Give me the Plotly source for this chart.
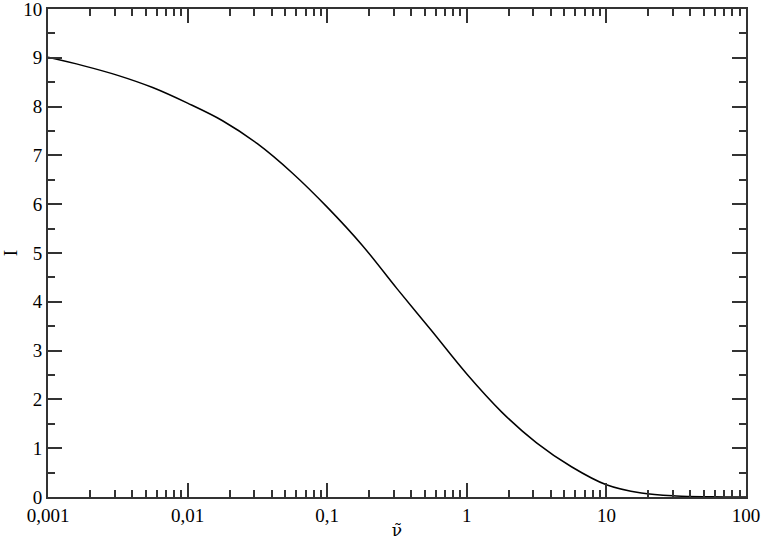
import plotly.graph_objects as go

# values (quarter-decade steps)
nu = [0.001, 0.00178, 0.00316, 0.00562, 0.01, 0.0178, 0.0316, 0.0562, 0.1, 0.178,
      0.316, 0.562, 1, 1.78, 3.16, 5.62, 10, 17.8, 31.6, 56.2, 100]
intensity = [9.01, 8.84, 8.64, 8.39, 8.07, 7.71, 7.24, 6.64, 5.94, 5.16,
             4.27, 3.40, 2.52, 1.74, 1.11, 0.62, 0.25, 0.08, 0.02, 0.005, 0.0]

x_tickvals = [0.001, 0.01, 0.1, 1, 10, 100]
x_ticktext = ['0,001', '0,01', '0,1', '1', '10', '100']
x_minor = [m * 10 ** k for k in range(-3, 2) for m in range(2, 10)]

font = dict(family='Liberation Serif, Times New Roman, serif', size=19, color='black')

fig = go.Figure()
fig.add_trace(go.Scatter(x=nu, y=intensity, mode='lines',
                         line=dict(color='black', width=1.5, shape='spline')))

fig.update_xaxes(type='log', range=[-3, 2], tickvals=x_tickvals, ticktext=x_ticktext,
                 ticks='inside', ticklen=14, tickwidth=1.5, tickcolor='#333',
                 minor=dict(tickvals=x_minor, ticks='inside', ticklen=7, tickwidth=1.5,
                            tickcolor='#333', showgrid=False),
                 showline=True, linewidth=2, linecolor='#333', mirror='allticks',
                 showgrid=False, zeroline=False, automargin=False,
                 ticklabeloverflow='allow',
                 title=dict(text='ν̃', font=dict(family='DejaVu Serif', size=17, color='black'),
                            standoff=0),
                 tickfont=font)
fig.update_yaxes(range=[0, 10], dtick=1, tick0=0,
                 ticks='inside', ticklen=14, tickwidth=1.5, tickcolor='#333',
                 minor=dict(dtick=0.5, ticks='inside', ticklen=7, tickwidth=1.5,
                            tickcolor='#333', showgrid=False),
                 showline=True, linewidth=2, linecolor='#333', mirror='allticks',
                 showgrid=False, zeroline=False, automargin=False,
                 ticklabeloverflow='allow',
                 title=dict(text='I', font=font, standoff=8), tickfont=font)

fig.update_layout(width=763, height=540, margin=dict(l=48, r=17, t=9, b=43),
                  plot_bgcolor='white', paper_bgcolor='white', showlegend=False,
                  separators=', ', font=font)

# page body has a default margin, drop it so the figure sits at the window corner
fig.write_html("out.html", config={'displayModeBar': False},
               post_script="document.body.style.margin='0';")
